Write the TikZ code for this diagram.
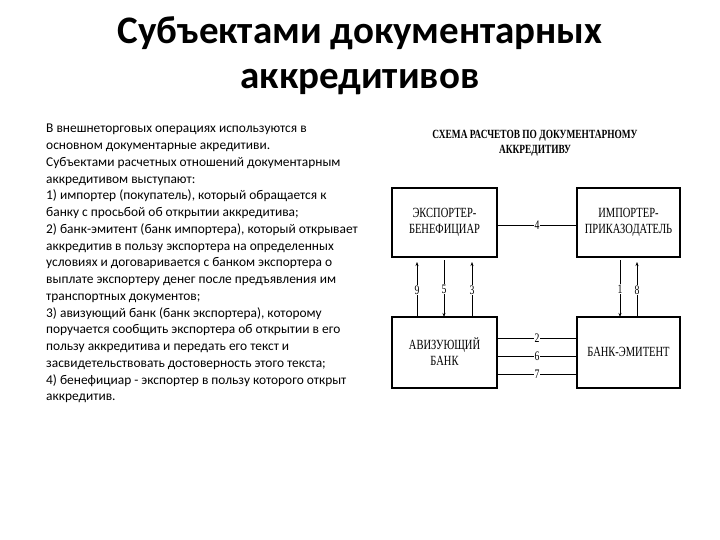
\documentclass[tikz,border=0pt]{standalone}
\usepackage{fontspec}
\setmainfont{Carlito}
\newfontfamily\diagfont[FakeStretch=0.75]{Liberation Serif}
\usetikzlibrary{arrows.meta}
\begin{document}
\begin{tikzpicture}[x=1pt,y=-1pt,
  box/.style={draw,line width=1.6pt,inner sep=0pt},
  blab/.style={font=\diagfont\fontsize{14}{16}\selectfont,align=center},
  num/.style={font=\diagfont\fontsize{13}{13}\selectfont,fill=white,inner sep=0.5pt,text height=9pt,text depth=0pt},
  ln/.style={line width=0.6pt},
  arr/.style={line width=0.5pt,-{Stealth[length=4pt,width=3pt]}}]
\useasboundingbox[fill=white] (0,0) rectangle (720,540);
\node[font=\bfseries\fontsize{39}{45}\selectfont,align=center] (title) at (360,56) {Субъектами документарных\\аккредитивов};
\node[anchor=north west,align=left,inner sep=0pt,font=\fontsize{13.4}{16.75}\selectfont] (txt) at (46,124) {В внешнеторговых операциях используются в\\
основном документарные акредитиви.\\
Субъектами расчетных отношений документарным\\
аккредитивом выступают:\\
1) импортер (покупатель), который обращается к\\
банку с просьбой об открытии аккредитива;\\
2) банк-эмитент (банк импортера), который открывает\\
аккредитив в пользу экспортера на определенных\\
условиях и договаривается с банком экспортера о\\
выплате экспортеру денег после предъявления им\\
транспортных документов;\\
3) авизующий банк (банк экспортера), которому\\
поручается сообщить экспортера об открытии в его\\
пользу аккредитива и передать его текст и\\
засвидетельствовать достоверность этого текста;\\
4) бенефициар - экспортер в пользу которого открыт\\
аккредитив.};
\node[font=\diagfont\bfseries\fontsize{12.5}{15}\selectfont,align=center] (dt) at (535,143) {СХЕМА РАСЧЕТОВ ПО ДОКУМЕНТАРНОМУ\\АККРЕДИТИВУ};
\draw[box] (392,188) rectangle (497,257); \node[blab] (exp) at (444.5,222) {ЭКСПОРТЕР-\\БЕНЕФИЦИАР};
\draw[box] (577,188) rectangle (680,257); \node[blab] (imp) at (628.5,222) {ИМПОРТЕР-\\ПРИКАЗОДАТЕЛЬ};
\draw[box] (392,317) rectangle (497,388); \node[blab] (av) at (444.5,352) {АВИЗУЮЩИЙ\\БАНК};
\draw[box] (577,317) rectangle (680,388); \node[blab] (em) at (628.5,352) {БАНК-ЭМИТЕНТ};
\coordinate (e1) at (497,225); \coordinate (i1) at (577,225);
\draw[ln] (e1) -- node[num]{4} (i1);
\foreach \y/\n in {338/2,356/6,374/7}{
  \coordinate (a\n) at (497,\y); \coordinate (b\n) at (577,\y);
  \draw[ln] (a\n) -- node[num]{\n} (b\n);}
\coordinate (p9a) at (417,317); \coordinate (p9b) at (417,262);
\draw[arr] (p9a) -- node[num]{9} (p9b);
\coordinate (p5a) at (444,260); \coordinate (p5b) at (444,317);
\draw[arr] (p5a) -- node[num]{5} (p5b);
\coordinate (p3a) at (472,317); \coordinate (p3b) at (472,262);
\draw[arr] (p3a) -- node[num]{3} (p3b);
\coordinate (p1a) at (620,260); \coordinate (p1b) at (620,317);
\draw[arr] (p1a) -- node[num]{1} (p1b);
\coordinate (p8a) at (637,317); \coordinate (p8b) at (637,262);
\draw[arr] (p8a) -- node[num]{8} (p8b);
\end{tikzpicture}
\end{document}
